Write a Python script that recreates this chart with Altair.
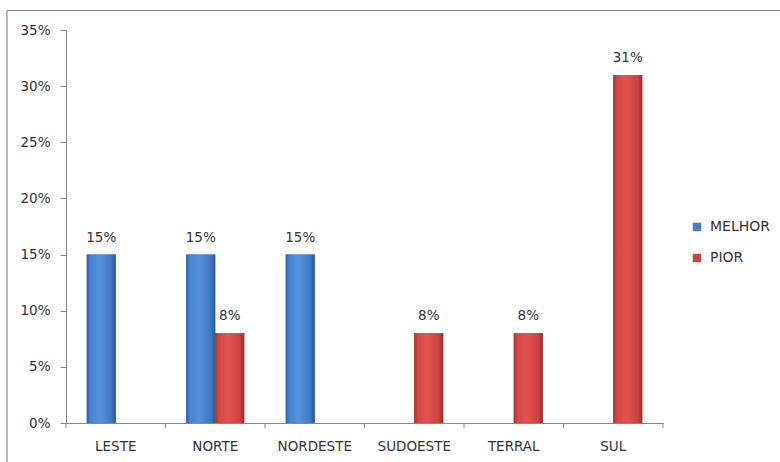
import altair as alt
import pandas as pd

categories = ["LESTE", "NORTE", "NORDESTE", "SUDOESTE", "TERRAL", "SUL"]
series = ["MELHOR", "PIOR"]
melhor = [0.15, 0.15, 0.15, None, None, None]
pior = [None, 0.08, None, 0.08, 0.08, 0.31]
y_ticks = [0, 0.05, 0.10, 0.15, 0.20, 0.25, 0.30, 0.35]

rows = []
for c, m, p in zip(categories, melhor, pior):
    if m is not None:
        rows.append({"cat": c, "serie": "MELHOR", "v": m})
    if p is not None:
        rows.append({"cat": c, "serie": "PIOR", "v": p})
df = pd.DataFrame(rows)
cat_df = pd.DataFrame({"cat": categories})
one = pd.DataFrame({"a": [0]})

FONT = "DejaVu Sans"
TXT = "#333333"
AXC = "#868686"
FS = 13.5
W, H = 597, 393

x_scale = alt.Scale(domain=categories, paddingInner=0, paddingOuter=0)
x_axis = alt.Axis(title=None, labelAngle=0, ticks=False, tickSize=0, labelPadding=16,
                  labelFont=FONT, labelFontSize=FS, labelColor=TXT, domainColor=AXC,
                  grid=False)
x_enc = alt.X("cat:N", sort=categories, scale=x_scale, axis=x_axis)
xo_enc = alt.XOffset("serie:N", scale=alt.Scale(domain=series, paddingInner=0, paddingOuter=0.716))
y_enc = alt.Y("v:Q", scale=alt.Scale(domain=[0, 0.35], nice=False),
              axis=alt.Axis(values=y_ticks, format=".0%", title=None, grid=False, tickSize=6,
                            tickColor=AXC, domainColor=AXC, labelPadding=10, labelFont=FONT,
                            labelFontSize=FS, labelColor=TXT))

base = alt.Chart(df)

legend_bars = base.mark_bar().encode(
    x=x_enc, xOffset=xo_enc, y=y_enc,
    color=alt.Color("serie:N", scale=alt.Scale(domain=series, range=["#4a7fc4", "#cc4643"]),
                    legend=alt.Legend(title=None, orient="none", legendX=624, legendY=190,
                                      symbolType="square", symbolSize=72, symbolStrokeWidth=0,
                                      labelFont=FONT, labelFontSize=14, labelColor=TXT,
                                      labelOffset=6, rowPadding=17, padding=0)),
)

blue_grad = alt.Gradient(gradient="linear", x1=0, x2=1, y1=0, y2=0, stops=[
    alt.GradientStop(offset=0, color="#2f5f9c"),
    alt.GradientStop(offset=0.12, color="#4683cf"),
    alt.GradientStop(offset=0.45, color="#5592de"),
    alt.GradientStop(offset=0.85, color="#3f78bf"),
    alt.GradientStop(offset=1, color="#2c578e"),
])
red_grad = alt.Gradient(gradient="linear", x1=0, x2=1, y1=0, y2=0, stops=[
    alt.GradientStop(offset=0, color="#a3302e"),
    alt.GradientStop(offset=0.12, color="#d24846"),
    alt.GradientStop(offset=0.45, color="#e3514f"),
    alt.GradientStop(offset=0.85, color="#c94341"),
    alt.GradientStop(offset=1, color="#972b29"),
])

blue_bars = base.transform_filter(alt.datum.serie == "MELHOR").mark_bar(fill=blue_grad).encode(
    x=x_enc, xOffset=xo_enc, y=y_enc)
red_bars = base.transform_filter(alt.datum.serie == "PIOR").mark_bar(fill=red_grad).encode(
    x=x_enc, xOffset=xo_enc, y=y_enc)

labels = base.mark_text(dy=-17, baseline="middle", font=FONT, fontSize=FS, color=TXT).encode(
    x=x_enc, xOffset=xo_enc, y=y_enc, text=alt.Text("v:Q", format=".0%"))

ticks = alt.Chart(cat_df).mark_rule(color=AXC).encode(
    x=alt.X("cat:N", sort=categories, scale=x_scale, axis=x_axis, bandPosition=0),
    y=alt.value(H), y2=alt.value(H + 5))
ticks_end = alt.Chart(cat_df).transform_filter(alt.datum.cat == "SUL").mark_rule(color=AXC).encode(
    x=alt.X("cat:N", sort=categories, scale=x_scale, axis=x_axis, bandPosition=1),
    y=alt.value(H), y2=alt.value(H + 5))

border_top = alt.Chart(one).mark_rule(color="#8a8a8a", strokeWidth=1.2).encode(
    x=alt.value(-59), x2=alt.value(W + 120), y=alt.value(-19.5))
border_left = alt.Chart(one).mark_rule(color="#8a8a8a", strokeWidth=1.2).encode(
    x=alt.value(-59), y=alt.value(-19.5), y2=alt.value(H + 45))

chart = alt.layer(
    legend_bars, blue_bars, red_bars, labels, ticks, ticks_end, border_top, border_left
).properties(
    width=W, height=H,
    autosize=alt.AutoSizeParams(type="none"),
    padding={"left": 66, "top": 30, "right": 117, "bottom": 39},
    background="white",
).configure_view(stroke=None)

chart.save("out.html", embed_options={"renderer": "svg", "actions": False})
